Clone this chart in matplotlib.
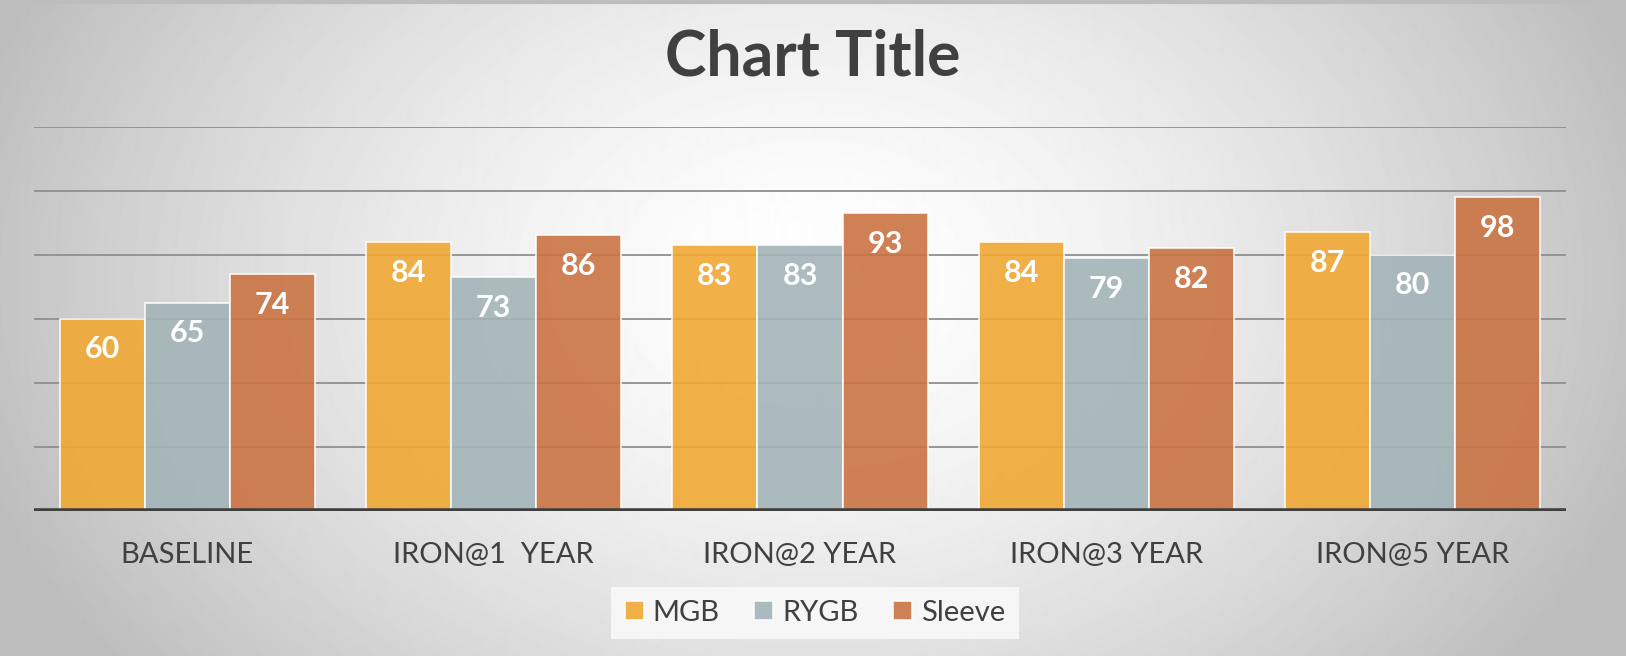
import matplotlib.pyplot as plt
import numpy as np

plt.rcParams['font.family'] = ['Lato', 'DejaVu Sans']

categories = ['BASELINE', 'IRON@1  YEAR', 'IRON@2 YEAR', 'IRON@3 YEAR', 'IRON@5 YEAR']
series_names = ['MGB', 'RYGB', 'Sleeve']
mgb = [60, 84, 83, 84, 87]
rygb = [65, 73, 83, 79, 80]
sleeve = [74, 86, 93, 82, 98]
colors = ['#F1A834', '#A3B4B8', '#CA7443']

W, H = 1626, 656
fig = plt.figure(figsize=(W / 100, H / 100), dpi=100)

# radial gradient background, white in the middle, grey at the edges
bg = fig.add_axes([0, 0, 1, 1], zorder=0)
yy, xx = np.mgrid[0:H, 0:W]
d = np.sqrt(((xx - 810) / 900.0) ** 2 + ((yy - 280) / 650.0) ** 2)
shade = np.clip(1.0 - 0.27 * d ** 1.5, 0.74, 1.0)
bg.imshow(shade, cmap='gray', vmin=0, vmax=1, aspect='auto', extent=[0, W, H, 0])
bg.plot([0, W], [1.5, 1.5], color='#bdbdbd', lw=3)
bg.set_xlim(0, W)
bg.set_ylim(H, 0)
bg.axis('off')

ax = fig.add_axes([34 / W, 1 - 511 / H, (1566 - 34) / W, (511 - 126.5) / H], zorder=1)
ax.patch.set_alpha(0)

x = np.arange(len(categories))
width = 1 / 3.6
for i, (name, vals) in enumerate(zip(series_names, [mgb, rygb, sleeve])):
    pos = x + (i - 1) * width
    bars = ax.bar(pos, vals, width, color=colors[i], alpha=0.9, edgecolor=(1, 1, 1, 0.6),
                  linewidth=1.2, label=name, zorder=3)
    for b, v in zip(bars, vals):
        ax.annotate(str(v), (b.get_x() + b.get_width() / 2, v), xytext=(0, -12),
                    textcoords='offset points', ha='center', va='top', color='white',
                    fontsize=22, fontweight='bold', zorder=4)

ax.set_xlim(-0.5, len(categories) - 0.5)
ax.set_ylim(0, 120)
ax.set_yticks(np.arange(20, 121, 20))
ax.yaxis.grid(True, color='#8f8f8f', lw=1.3, zorder=1)
ax.axhline(0, color='#3f3f3f', lw=4, zorder=5)
ax.tick_params(axis='y', left=False, labelleft=False)
ax.set_xticks(x)
ax.set_xticklabels(categories, fontsize=21, color='#404040')
ax.tick_params(axis='x', length=0, pad=22)
for s in ax.spines.values():
    s.set_visible(False)

fig.text(0.5, 1 - 58 / H, 'Chart Title', ha='center', va='center', fontsize=45,
         fontweight='bold', color='#404040')

leg = ax.legend(loc='center', bbox_to_anchor=(815 / W, 1 - 613 / H), bbox_transform=fig.transFigure,
                ncol=3, fontsize=21, frameon=True, handlelength=0.65, handleheight=0.65,
                handletextpad=0.3, columnspacing=1.2, borderpad=0.45)
frame = leg.get_frame()
frame.set_facecolor('#f6f6f6')
frame.set_edgecolor('none')
frame.set_alpha(1)
frame.set_boxstyle('square', pad=0)
for t in leg.get_texts():
    t.set_color('#404040')

fig.savefig('out.png', dpi=100)
